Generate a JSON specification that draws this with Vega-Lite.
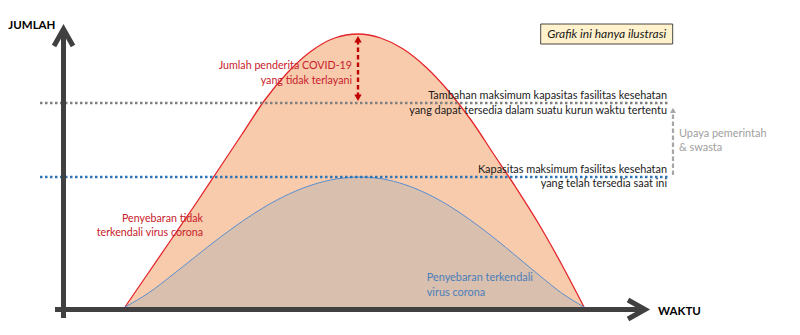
{
  "$schema": "https://vega.github.io/schema/vega-lite/v6.json",
  "width": 800,
  "height": 335,
  "autosize": {"type": "fit", "contains": "padding"},
  "padding": 0,
  "background": "white",
  "config": {"view": {"stroke": null}, "font": "Lato"},
  "datasets": {
    "red": [
      {"t": 61, "v": 0}, {"t": 84.3, "v": 34}, {"t": 107.6, "v": 68}, {"t": 130.9, "v": 102},
      {"t": 154.2, "v": 137}, {"t": 177.5, "v": 172}, {"t": 200.8, "v": 207}, {"t": 224.1, "v": 235},
      {"t": 247.4, "v": 256}, {"t": 270.7, "v": 269}, {"t": 294, "v": 273},
      {"t": 316.6, "v": 269}, {"t": 339.2, "v": 258}, {"t": 361.8, "v": 240}, {"t": 384.4, "v": 216},
      {"t": 407, "v": 187}, {"t": 429.6, "v": 153}, {"t": 452.2, "v": 119}, {"t": 474.8, "v": 83},
      {"t": 497.4, "v": 43}, {"t": 520, "v": 0}
    ],
    "blue": [
      {"t": 61, "v": 0}, {"t": 84.5, "v": 14}, {"t": 108, "v": 31.8}, {"t": 131.5, "v": 50.4},
      {"t": 155, "v": 68.8}, {"t": 178.5, "v": 85.8}, {"t": 202, "v": 100.9}, {"t": 225.5, "v": 113.2},
      {"t": 249, "v": 122.4}, {"t": 272.5, "v": 128.1}, {"t": 296, "v": 130},
      {"t": 318.4, "v": 128.1}, {"t": 340.8, "v": 122.4}, {"t": 363.2, "v": 113.2}, {"t": 385.6, "v": 100.9},
      {"t": 408, "v": 85.8}, {"t": 430.4, "v": 68.8}, {"t": 452.8, "v": 50.4}, {"t": 475.2, "v": 31.8},
      {"t": 497.6, "v": 14}, {"t": 520, "v": 0}
    ],
    "ref": [
      {"kind": "gray", "t": -24, "t2": 604, "v": 204},
      {"kind": "blue", "t": -24, "t2": 604, "v": 130}
    ],
    "shafts": [
      {"kind": "red", "t": 294, "v": 210, "v2": 267},
      {"kind": "gray", "t": 609, "v": 132, "v2": 195}
    ],
    "heads": [
      {"kind": "red", "dir": "up", "t": 294, "v": 267.7},
      {"kind": "red", "dir": "down", "t": 294, "v": 209.3},
      {"kind": "gray", "dir": "up", "t": 609, "v": 196.6}
    ],
    "ax": [
      {"id": "y", "k": 0, "t": -0.5, "v": -11},
      {"id": "y", "k": 1, "t": -0.5, "v": 276},
      {"id": "ya", "k": 0, "t": -10, "v": 261},
      {"id": "ya", "k": 1, "t": -0.5, "v": 278},
      {"id": "ya", "k": 2, "t": 9, "v": 261},
      {"id": "x", "k": 0, "t": -9, "v": -2.5},
      {"id": "x", "k": 1, "t": 579, "v": -2.5},
      {"id": "xa", "k": 0, "t": 564, "v": 7},
      {"id": "xa", "k": 1, "t": 581, "v": -2.5},
      {"id": "xa", "k": 2, "t": 564, "v": -12}
    ],
    "box": [
      {"t": 476.7, "t2": 608.7, "v": 263, "v2": 283}
    ],
    "labels": [
      {"g": "redR", "t": 288, "v": 238, "text": "Jumlah penderita COVID-19"},
      {"g": "redR", "t": 288, "v": 223.5, "text": "yang tidak terlayani"},
      {"g": "redR", "t": 139, "v": 85.3, "text": "Penyebaran tidak"},
      {"g": "redR", "t": 139, "v": 71.3, "text": "terkendali virus corona"},
      {"g": "blackR", "t": 603, "v": 207.7, "text": "Tambahan maksimum kapasitas fasilitas kesehatan"},
      {"g": "blackR", "t": 603, "v": 192.7, "text": "yang dapat tersedia dalam suatu kurun waktu tertentu"},
      {"g": "blackR", "t": 603, "v": 134.3, "text": "Kapasitas maksimum fasilitas kesehatan"},
      {"g": "blackR", "t": 603, "v": 120, "text": "yang telah tersedia saat ini"},
      {"g": "grayL", "t": 615, "v": 170.3, "text": "Upaya pemerintah"},
      {"g": "grayL", "t": 615, "v": 156.3, "text": "& swasta"},
      {"g": "blueL", "t": 362.7, "v": 26.3, "text": "Penyebaran terkendali"},
      {"g": "blueL", "t": 362.7, "v": 11.3, "text": "virus corona"},
      {"g": "axisL", "t": -55.7, "v": 278, "text": "JUMLAH"},
      {"g": "axisL", "t": 594, "v": -8, "text": "WAKTU"},
      {"g": "note", "t": 542.7, "v": 268.7, "text": "Grafik ini hanya ilustrasi"}
    ]
  },
  "encoding": {
    "x": {"field": "t", "type": "quantitative", "scale": {"domain": [-64, 736], "nice": false, "zero": false}, "axis": null},
    "y": {"field": "v", "type": "quantitative", "scale": {"domain": [-28, 307], "nice": false, "zero": false}, "axis": null}
  },
  "layer": [
    {"data": {"name": "red"}, "mark": {"type": "area", "interpolate": "monotone", "color": "#F8CBAD", "opacity": 1}, "encoding": {"y2": {"datum": 0}}},
    {"data": {"name": "blue"}, "mark": {"type": "area", "interpolate": "monotone", "color": "#D9BFAE", "opacity": 1}, "encoding": {"y2": {"datum": 0}}},
    {"data": {"name": "red"}, "mark": {"type": "line", "interpolate": "monotone", "color": "#E3262B", "strokeWidth": 1.3}},
    {"data": {"name": "blue"}, "mark": {"type": "line", "interpolate": "monotone", "color": "#5A8ED0", "strokeWidth": 1}},
    {"data": {"name": "ref"}, "transform": [{"filter": "datum.kind === 'gray'"}], "mark": {"type": "rule", "color": "#7F7F7F", "strokeWidth": 2.5, "strokeDash": [2.5, 2.5]}, "encoding": {"x2": {"field": "t2"}}},
    {"data": {"name": "ref"}, "transform": [{"filter": "datum.kind === 'blue'"}], "mark": {"type": "rule", "color": "#2E75B6", "strokeWidth": 2.5, "strokeDash": [2.5, 2.5]}, "encoding": {"x2": {"field": "t2"}}},
    {"data": {"name": "shafts"}, "transform": [{"filter": "datum.kind === 'red'"}], "mark": {"type": "rule", "color": "#C00000", "strokeWidth": 2.4, "strokeDash": [4.5, 3]}, "encoding": {"y2": {"field": "v2"}}},
    {"data": {"name": "shafts"}, "transform": [{"filter": "datum.kind === 'gray'"}], "mark": {"type": "rule", "color": "#A6A6A6", "strokeWidth": 2.2, "strokeDash": [4.5, 2.5]}, "encoding": {"y2": {"field": "v2"}}},
    {"data": {"name": "heads"}, "transform": [{"filter": "datum.kind === 'red'"}], "mark": {"type": "point", "filled": true, "color": "#C00000", "size": 55, "opacity": 1},
      "encoding": {"shape": {"field": "dir", "type": "nominal", "scale": {"domain": ["up", "down"], "range": ["triangle-up", "triangle-down"]}, "legend": null}}},
    {"data": {"name": "heads"}, "transform": [{"filter": "datum.kind === 'gray'"}], "mark": {"type": "point", "filled": true, "color": "#A6A6A6", "size": 35, "opacity": 1, "shape": "triangle-up"}},
    {"data": {"name": "ax"}, "mark": {"type": "line", "color": "#404040", "strokeWidth": 5, "strokeJoin": "miter", "strokeCap": "butt"},
      "encoding": {"detail": {"field": "id"}, "order": {"field": "k", "type": "quantitative"}}},
    {"data": {"name": "box"}, "mark": {"type": "rect", "fill": "#FFF2CC", "stroke": "#1a1a1a", "strokeWidth": 0.8}, "encoding": {"x2": {"field": "t2"}, "y2": {"field": "v2"}}},
    {"data": {"name": "labels"}, "transform": [{"filter": "datum.g === 'redR'"}], "mark": {"type": "text", "align": "right", "baseline": "alphabetic", "fontSize": 10.7, "color": "#C8202A"}, "encoding": {"text": {"field": "text"}}},
    {"data": {"name": "labels"}, "transform": [{"filter": "datum.g === 'blackR'"}], "mark": {"type": "text", "align": "right", "baseline": "alphabetic", "fontSize": 10.9, "color": "#1a1a1a"}, "encoding": {"text": {"field": "text"}}},
    {"data": {"name": "labels"}, "transform": [{"filter": "datum.g === 'grayL'"}], "mark": {"type": "text", "align": "left", "baseline": "alphabetic", "fontSize": 10.9, "color": "#A0A0A0"}, "encoding": {"text": {"field": "text"}}},
    {"data": {"name": "labels"}, "transform": [{"filter": "datum.g === 'blueL'"}], "mark": {"type": "text", "align": "left", "baseline": "alphabetic", "fontSize": 10.9, "color": "#4A7EBB"}, "encoding": {"text": {"field": "text"}}},
    {"data": {"name": "labels"}, "transform": [{"filter": "datum.g === 'axisL'"}], "mark": {"type": "text", "align": "left", "baseline": "alphabetic", "fontSize": 11.5, "fontWeight": "bold", "color": "#000000"}, "encoding": {"text": {"field": "text"}}},
    {"data": {"name": "labels"}, "transform": [{"filter": "datum.g === 'note'"}], "mark": {"type": "text", "align": "center", "baseline": "alphabetic", "fontSize": 12, "fontStyle": "italic", "color": "#1a1a1a"}, "encoding": {"text": {"field": "text"}}}
  ]
}
